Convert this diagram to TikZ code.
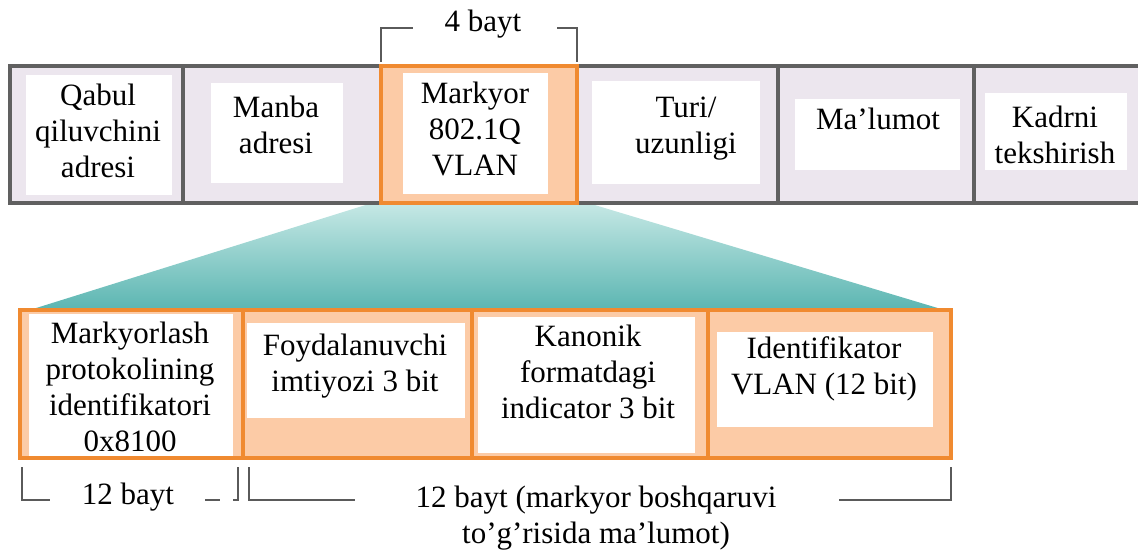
\documentclass[tikz,border=0pt]{standalone}
\usepackage{fontspec}
\setmainfont{Liberation Serif}
\definecolor{framegray}{HTML}{606060}
\definecolor{lav}{HTML}{ECE6EE}
\definecolor{orng}{HTML}{F08A30}
\definecolor{peach}{HTML}{FCCBA6}
\definecolor{tealtop}{HTML}{C6E8E5}
\definecolor{tealbot}{HTML}{5CB6B2}
\definecolor{brk}{HTML}{5A5A5A}
\tikzset{
  lbl/.style={align=center, inner sep=0pt, font=\fontsize{15.5}{18}\selectfont},
  whitebox/.style={fill=white, draw=none},
  grayframe/.style={draw=framegray, line width=2.4pt},
  orangeframe/.style={draw=orng, line width=2.3pt},
  bracketline/.style={draw=brk, line width=1.1pt},
}
\begin{document}
\begin{tikzpicture}[x=0.5pt, y=-0.5pt]
\path[use as bounding box] (0,0) rectangle (1138,550);
\clip (0,0) rectangle (1138,550);

% ---- teal expansion trapezoid
\shade[top color=tealtop, bottom color=tealbot] (372,203) -- (588,203) -- (941,309) -- (33,309) -- cycle;

% ---- top frame row
\fill[lav] (10,66) rectangle (1150,203);
\draw[grayframe] (10,66) rectangle (1150,203);
\draw[grayframe] (183,66) -- (183,203);
\draw[grayframe] (778,66) -- (778,203);
\draw[grayframe] (974,66) -- (974,203);
\draw[orangeframe, fill=peach] (381,66) rectangle (577,203);

% white inner boxes (top)
\fill[whitebox] (26,75) rectangle (172,195);
\fill[whitebox] (211,83) rectangle (343,183);
\fill[whitebox] (403,73) rectangle (548,194);
\fill[whitebox] (592,81) rectangle (760,184);
\fill[whitebox] (795,99) rectangle (960,170);
\fill[whitebox] (985,93) rectangle (1127,170);

\node[lbl] (qabul) at (98,131) {Qabul\\qiluvchini\\adresi};
\node[lbl] (manba) at (276,125) {Manba\\adresi};
\node[lbl] (markyor) at (475,129) {Markyor\\802.1Q\\VLAN};
\node[lbl] (turi) at (686,129) {Turi/\\uzunligi};
\node[lbl] (malumot) at (878,119) {Ma’lumot};
\node[lbl] (kadrni) at (1055,135) {Kadrni\\tekshirish};

% ---- 4 bayt bracket
\coordinate (tb1) at (381,62);
\coordinate (tb2) at (381,28);
\coordinate (tb3) at (413,28);
\coordinate (tb4) at (557,28);
\coordinate (tb5) at (577,28);
\coordinate (tb6) at (577,62);
\draw[bracketline] (tb1) -- (tb2) -- (tb3);
\draw[bracketline] (tb4) -- (tb5) -- (tb6);
\node[lbl] (fourbayt) at (483,24) {4 bayt};

% ---- bottom tag row
\draw[orangeframe, fill=peach] (20,310) rectangle (951,458);
\draw[orangeframe] (243,310) -- (243,458);
\draw[orangeframe] (472,310) -- (472,458);
\draw[orangeframe] (708,310) -- (708,458);

\fill[whitebox] (29,314) rectangle (233,456);
\fill[whitebox] (247,323) rectangle (465,418);
\fill[whitebox] (478,317) rectangle (695,453);
\fill[whitebox] (717,332) rectangle (933,427);

\node[lbl] (tpid) at (130,387) {Markyorlash\\protokolining\\identifikatori\\0x8100};
\node[lbl] (prio) at (355,366) {Foydalanuvchi\\imtiyozi 3 bit};
\node[lbl] (cfi) at (588,372) {Kanonik\\formatdagi\\indicator 3 bit};
\node[lbl] (vid) at (824,369) {Identifikator\\VLAN (12 bit)};

% ---- bottom brackets
\coordinate (la) at (22,467);
\coordinate (lb) at (22,500);
\coordinate (lc) at (50,500);
\coordinate (ld) at (205,500);
\coordinate (le) at (220,500);
\coordinate (lf) at (233,500);
\coordinate (lg) at (238,500);
\coordinate (lh) at (238,467);
\draw[bracketline] (la) -- (lb) -- (lc);
\draw[bracketline] (ld) -- (le);
\draw[bracketline] (lf) -- (lg) -- (lh);
\node[lbl] (twelve) at (128,497) {12 bayt};

\coordinate (ra) at (249,467);
\coordinate (rb) at (249,500);
\coordinate (rc) at (355,500);
\coordinate (rd) at (839,500);
\coordinate (re) at (951,500);
\coordinate (rf) at (951,467);
\draw[bracketline] (ra) -- (rb) -- (rc);
\draw[bracketline] (rd) -- (re) -- (rf);
\node[lbl] (twelvectl) at (596,518) {12 bayt (markyor boshqaruvi\\to’g’risida ma’lumot)};
\end{tikzpicture}
\end{document}
